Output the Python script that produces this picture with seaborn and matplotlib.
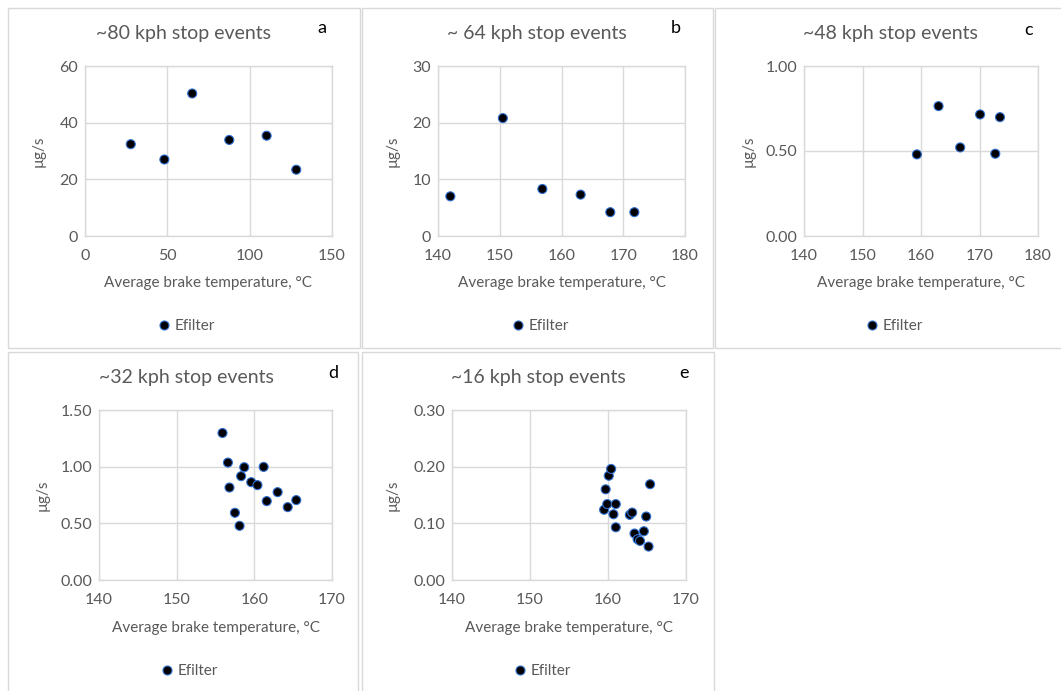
import matplotlib
matplotlib.use("Agg")
import matplotlib.pyplot as plt
from matplotlib.patches import Rectangle
from matplotlib.ticker import FixedLocator, FormatStrFormatter
import seaborn as sns
import pandas as pd

sns.set_style("white")
plt.rcParams["font.family"] = ["Lato", "DejaVu Sans"]

# ---- data -------------------------------------------------------------
titles = ["~80 kph stop events", "~ 64 kph stop events", "~48 kph stop events",
          "~32 kph stop events", "~16 kph stop events"]
letters = ["a", "b", "c", "d", "e"]
series_name = "Efilter"
x_label = "Average brake temperature, °C"
y_label = "µg/s"

temp_80 = [27.8, 48.2, 65.1, 87.6, 110.3, 128.3]
rate_80 = [32.4, 27.0, 50.3, 33.9, 35.4, 23.4]

temp_64 = [142.0, 150.5, 156.9, 163.1, 167.9, 171.8]
rate_64 = [7.0, 20.8, 8.3, 7.3, 4.2, 4.2]

temp_48 = [159.3, 163.0, 166.7, 170.1, 172.7, 173.5]
rate_48 = [0.48, 0.764, 0.521, 0.715, 0.484, 0.699]

temp_32 = [155.9, 156.6, 156.8, 157.5, 158.1, 158.3, 158.7, 159.6, 160.4,
           161.2, 161.6, 163.0, 164.3, 165.4]
rate_32 = [1.297, 1.036, 0.816, 0.593, 0.478, 0.916, 0.995, 0.863, 0.837,
           0.998, 0.696, 0.775, 0.643, 0.705]

temp_16 = [159.5, 159.7, 159.9, 160.1, 160.4, 160.7, 161.0, 161.0, 162.8,
           163.1, 163.4, 163.8, 164.1, 164.6, 164.9, 165.2, 165.4]
rate_16 = [0.124, 0.160, 0.134, 0.184, 0.196, 0.116, 0.093, 0.134, 0.115,
           0.119, 0.082, 0.072, 0.069, 0.086, 0.112, 0.059, 0.169]

x_ticks = [[0, 50, 100, 150], [140, 150, 160, 170, 180], [140, 150, 160, 170, 180],
           [140, 150, 160, 170], [140, 150, 160, 170]]
y_ticks = [[0, 20, 40, 60], [0, 10, 20, 30], [0.0, 0.5, 1.0],
           [0.0, 0.5, 1.0, 1.5], [0.0, 0.1, 0.2, 0.3]]
y_formats = ["%d", "%d", "%.2f", "%.2f", "%.2f"]

temps = [temp_80, temp_64, temp_48, temp_32, temp_16]
rates = [rate_80, rate_64, rate_48, rate_32, rate_16]

# ---- layout (pixels on a 1061 x 691 canvas) ---------------------------
W, H = 1061, 691
fig = plt.figure(figsize=(W / 100, H / 100), dpi=100)
fig.patch.set_facecolor("white")


def fx(px):
    return px / W


def fy(py):
    return 1 - py / H


# panel frames: left, top, right, bottom
frames = [(8, 8, 360, 348), (362, 8, 713, 348), (715, 8, 1062, 348),
          (8, 352, 358, 692), (362, 352, 714, 692)]
# plot areas: left, top, right, bottom
areas = [(85, 66, 332, 236), (438, 66, 685, 236), (804, 66, 1038, 236),
         (99, 410, 332, 580), (452, 410, 686, 580)]
title_pos = [(184, 33), (537, 33), (890, 33), (186, 378), (538, 378)]
letter_pos = [(322, 28), (676, 28), (1029, 30), (333, 373), (684, 373)]
ylabel_x = [39, 393, 749, 43, 393]
xlabel_y = [283, 283, 283, 628, 628]
legend_pos = [(187, 326), (541, 326), (895, 326), (190, 671), (543, 671)]

grid_col = "#d9d9d9"
text_col = "#595959"

for i in range(5):
    l, t, r, b = frames[i]
    fig.patches.append(Rectangle((fx(l), fy(b)), fx(r - l), (b - t) / H,
                                 transform=fig.transFigure, fill=False,
                                 edgecolor=grid_col, linewidth=1.0, zorder=0))

    l, t, r, b = areas[i]
    ax = fig.add_axes([fx(l), fy(b), fx(r - l), (b - t) / H])
    df = pd.DataFrame({"temp": temps[i], "rate": rates[i],
                       "series": [series_name] * len(temps[i])})
    sns.scatterplot(data=df, x="temp", y="rate", hue="series",
                    palette=["black"], s=42, edgecolor="#2f6fd0",
                    linewidth=0.8, ax=ax, zorder=3, legend=True)

    xt, yt = x_ticks[i], y_ticks[i]
    ax.set_xlim(xt[0], xt[-1])
    ax.set_ylim(yt[0], yt[-1])
    ax.xaxis.set_major_locator(FixedLocator(xt))
    ax.yaxis.set_major_locator(FixedLocator(yt))
    ax.yaxis.set_major_formatter(FormatStrFormatter(y_formats[i]))
    ax.grid(True, color=grid_col, linewidth=1.0, zorder=0)
    ax.set_axisbelow(True)
    for sp in ax.spines.values():
        sp.set_color(grid_col)
        sp.set_linewidth(1.0)
    ax.tick_params(axis="both", length=0, labelsize=11.5, colors=text_col)
    ax.tick_params(axis="x", pad=9)
    ax.tick_params(axis="y", pad=5)
    ax.set_xlabel("")
    ax.set_ylabel("")

    fig.text(fx((l + r) / 2), fy(xlabel_y[i]), x_label, ha="center",
             va="center", fontsize=11, color=text_col)
    fig.text(fx(ylabel_x[i]), fy((t + b) / 2), y_label, ha="center",
             va="center", rotation=90, fontsize=11, color=text_col)
    tx, ty = title_pos[i]
    fig.text(fx(tx), fy(ty), titles[i], ha="center", va="center",
             fontsize=14, color=text_col)
    lx, ly = letter_pos[i]
    fig.text(fx(lx), fy(ly), letters[i], ha="center", va="center",
             fontsize=13, color="black")

    gx, gy = legend_pos[i]
    handles, labels = ax.get_legend_handles_labels()
    ax.legend(handles, labels, loc="center", bbox_to_anchor=(fx(gx), fy(gy)),
              bbox_transform=fig.transFigure, frameon=False, fontsize=11,
              handlelength=0.7, handletextpad=0.35, borderpad=0,
              labelcolor=text_col, markerscale=1.0)

fig.savefig("out.png", dpi=100, facecolor="white")
